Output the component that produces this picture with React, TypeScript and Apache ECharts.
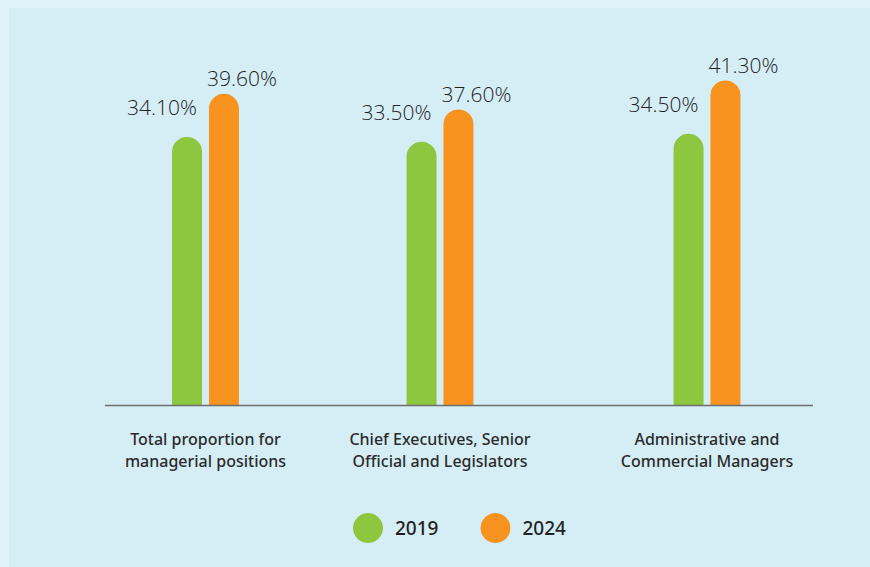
import React, { useEffect, useRef } from "react";
import * as echarts from "echarts";

const categories = [
  "Total proportion for\nmanagerial positions",
  "Chief Executives, Senior\nOfficial and Legislators",
  "Administrative and\nCommercial Managers",
];
const seriesNames = ["2019", "2024"];
const values2019 = [34.1, 33.5, 34.5];
const values2024 = [39.6, 37.6, 41.3];

const GREEN = "#8dc63f";
const ORANGE = "#f7931e";
const groupCenters = [205.5, 440, 707];
const groupWidth = 200;

export default function App() {
  const ref = useRef<HTMLDivElement>(null);
  useEffect(() => {
    if (!ref.current) return;
    const chart = echarts.init(ref.current, null, { renderer: "svg" });
    const grids = groupCenters.map((c) => ({
      left: c - groupWidth / 2,
      width: groupWidth,
      top: 12,
      bottom: 162,
    }));
    const xAxes = categories.map((cat, i) => ({
      type: "category",
      gridIndex: i,
      data: [cat],
      axisLine: { show: false },
      axisTick: { show: false },
      axisLabel: {
        fontSize: 16,
        fontFamily: "Noto Sans",
        fontWeight: 500,
        color: "#2b2b2b",
        lineHeight: 22,
        margin: 23,
      },
    }));
    const yAxes = categories.map((_, i) => ({
      type: "value",
      gridIndex: i,
      min: 0,
      max: 50,
      show: false,
      splitLine: { show: false },
    }));
    const labelBase = {
      show: true,
      position: "top",
      fontSize: 21,
      fontFamily: "Open Sans",
      fontWeight: 300,
      color: "#222",
      formatter: (p: any) => p.value.toFixed(2) + "%",
    };
    const series: any[] = [];
    categories.forEach((_, i) => {
      series.push({
        type: "bar",
        name: seriesNames[0],
        xAxisIndex: i,
        yAxisIndex: i,
        data: [values2019[i]],
        barWidth: 30,
        barGap: "23%",
        itemStyle: { color: GREEN, borderRadius: [15, 15, 0, 0] },
        label: { ...labelBase, offset: [-25, -14] },
      });
      series.push({
        type: "bar",
        name: seriesNames[1],
        xAxisIndex: i,
        yAxisIndex: i,
        data: [values2024[i]],
        barWidth: 30,
        barGap: "23%",
        itemStyle: { color: ORANGE, borderRadius: [15, 15, 0, 0] },
        label: { ...labelBase, offset: [18, 0] },
      });
    });
    chart.setOption({
      animation: false,
      backgroundColor: "transparent",
      color: [GREEN, ORANGE],
      grid: grids,
      xAxis: xAxes,
      yAxis: yAxes,
      legend: {
        data: seriesNames,
        top: 508,
        left: 348,
        icon: "circle",
        itemWidth: 30,
        itemHeight: 30,
        itemGap: 42,
        textStyle: {
          fontSize: 19,
          fontFamily: "Noto Sans",
          fontWeight: 500,
          color: "#222",
          padding: [0, 0, 0, 7],
        },
      },
      graphic: [
        {
          type: "line",
          shape: { x1: 105, y1: 405.5, x2: 813, y2: 405.5 },
          style: { stroke: "#6e6e6e", lineWidth: 1.5 },
          z: 10,
        },
      ],
      series,
    });
    return () => chart.dispose();
  }, []);
  return (
    <div
      style={{
        position: "absolute",
        left: 0,
        top: 0,
        width: 870,
        height: 567,
        background: "#dff2fa",
      }}
    >
      <div
        style={{
          position: "absolute",
          left: 9,
          top: 8,
          right: 0,
          bottom: 0,
          background: "#d5eef6",
        }}
      />
      <div
        ref={ref}
        style={{ position: "absolute", left: 0, top: 0, width: 870, height: 567 }}
      />
    </div>
  );
}
